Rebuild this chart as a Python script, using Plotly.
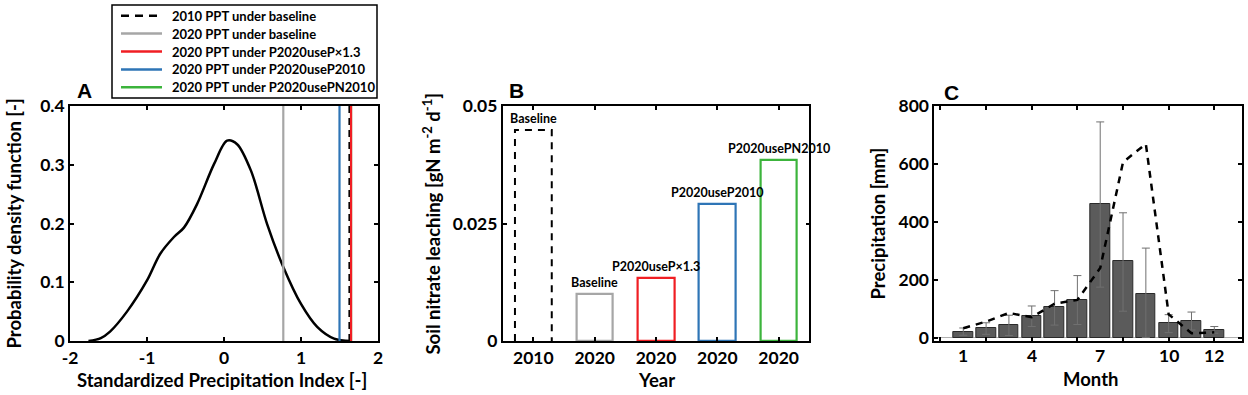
import plotly.graph_objects as go

# ---------------- data ----------------
# Panel A: PDF of standardized precipitation index
spi_x = [-1.76, -1.60, -1.48, -1.26, -1.00, -0.83, -0.65, -0.52, -0.35, -0.13, 0.04, 0.17, 0.35, 0.56, 0.77, 1.00, 1.21, 1.43, 1.65]
pdf_y = [0.0, 0.005, 0.016, 0.050, 0.103, 0.148, 0.177, 0.193, 0.233, 0.301, 0.341, 0.335, 0.290, 0.199, 0.126, 0.063, 0.024, 0.004, 0.0]
vline_names = ["2010 PPT under baseline", "2020 PPT under baseline", "2020 PPT under P2020useP×1.3",
               "2020 PPT under P2020useP2010", "2020 PPT under P2020usePN2010"]
vline_spi = [1.63, 0.77, 1.65, 1.50, 1.65]

# Panel B: soil nitrate leaching
scenario_labels = ["Baseline", "Baseline", "P2020useP×1.3", "P2020useP2010", "P2020usePN2010"]
year_labels = ["2010", "2020", "2020", "2020", "2020"]
leaching = [0.0449, 0.0100, 0.0133, 0.0291, 0.0385]

# Panel C: monthly precipitation
months = [1, 2, 3, 4, 5, 6, 7, 8, 9, 10, 11, 12]
precip_mean = [20, 34, 42, 76, 104, 131, 460, 263, 152, 51, 58, 26]
precip_hi = [33, 51, 77, 109, 162, 214, 745, 431, 309, 79, 88, 38]
precip_lo = [8, 11, 7, 38, 43, 45, 174, 91, 0, 17, 26, 15]
precip_2010 = [32, 55, 85, 70, 117, 130, 240, 606, 669, 80, 15, 18]
month_labels = [1, 4, 7, 10, 12]

# ---------------- styles ----------------
FONT = "Lato"
BLACK = "#000000"
GRAY = "#A6A6A6"
RED = "#F01E23"
BLUE = "#2E75B6"
GREEN = "#3CB43C"
line_colors = [BLACK, GRAY, RED, BLUE, GREEN]
line_dash = ["7px,5px", "solid", "solid", "solid", "solid"]

W, H = 1248, 395
def px(xp):
    return xp / W
def py(yp):
    return 1 - yp / H

ydom = [py(341), py(106)]

fig = go.Figure()

# Panel A curve
fig.add_trace(go.Scatter(x=spi_x, y=pdf_y, mode="lines", line=dict(color=BLACK, width=2.5, shape="spline", smoothing=0.9),
                         showlegend=False, xaxis="x", yaxis="y"))
# vertical lines (draw order: gray, blue, green, dashed black, red)
order = [1, 3, 4, 0, 2]
for i in order:
    fig.add_trace(go.Scatter(x=[vline_spi[i], vline_spi[i]], y=[0, 0.4], mode="lines",
                             line=dict(color=line_colors[i], width=2.2, dash=line_dash[i]),
                             name=vline_names[i], showlegend=False, xaxis="x", yaxis="y"))

# Panel B bars
bar_w = 0.6
cats = [1, 2, 3, 4, 5]
c0 = cats[0]
fig.add_trace(go.Scatter(x=[c0 - bar_w / 2, c0 - bar_w / 2, c0 + bar_w / 2, c0 + bar_w / 2],
                         y=[0, leaching[0], leaching[0], 0], mode="lines",
                         line=dict(color=BLACK, width=2, dash="7px,6px"), showlegend=False,
                         xaxis="x2", yaxis="y2"))
fig.add_trace(go.Bar(x=cats[1:], y=leaching[1:], width=bar_w,
                     marker=dict(color="rgba(0,0,0,0)", line=dict(color=line_colors[1:], width=2.2)),
                     showlegend=False, xaxis="x2", yaxis="y2"))

# Panel C bars with error bars
err_plus = [h - m for h, m in zip(precip_hi, precip_mean)]
err_minus = [m - l for m, l in zip(precip_mean, precip_lo)]
fig.add_trace(go.Bar(x=months, y=precip_mean, width=0.86,
                     marker=dict(color="#5B5B5B", line=dict(color="#2A2A2A", width=1)),
                     error_y=dict(type="data", array=err_plus, arrayminus=err_minus, color="#707070",
                                  thickness=1, width=4),
                     showlegend=False, xaxis="x3", yaxis="y3"))
fig.add_trace(go.Scatter(x=months, y=precip_2010, mode="lines",
                         line=dict(color=BLACK, width=2.5, dash="7px,6px"), showlegend=False,
                         xaxis="x3", yaxis="y3"))

axis_common = dict(showline=True, linecolor=BLACK, linewidth=1.6, mirror="allticks", ticks="inside",
                   ticklen=4, tickwidth=1.5, tickcolor=BLACK, showgrid=False, zeroline=False,
                   automargin=False,
                   tickfont=dict(family=FONT, size=17.5, color=BLACK, weight="bold"))

fig.update_layout(
    width=W, height=H, margin=dict(l=0, r=0, t=0, b=0, autoexpand=False),
    paper_bgcolor="white", plot_bgcolor="white",
    font=dict(family=FONT, color=BLACK, weight="bold"),
    bargap=0, barmode="overlay", showlegend=False,
    xaxis=dict(domain=[px(70), px(378)], range=[-2, 2], tickvals=[-2, -1, 0, 1, 2],
               ticktext=["-2", "-1", "0", "1", "2"], anchor="y", **axis_common),
    yaxis=dict(domain=ydom, range=[0, 0.4], tickvals=[0, 0.1, 0.2, 0.3, 0.4],
               ticktext=["0", "0.1", "0.2", "0.3", "0.4"], anchor="x", **axis_common),
    xaxis2=dict(domain=[px(502.7), px(809.3)], range=[0.5, 5.5], tickvals=cats, ticktext=year_labels,
                anchor="y2", **axis_common),
    yaxis2=dict(domain=ydom, range=[0, 0.05], tickvals=[0, 0.025, 0.05], ticktext=["0", "0.025", "0.05"],
                anchor="x2", **axis_common),
    xaxis3=dict(domain=[px(934.3), px(1241.7)], range=[-0.27, 13.2], tickvals=[0, 2, 4, 6, 8, 10, 12],
                showticklabels=False, anchor="y3", **axis_common),
    yaxis3=dict(domain=ydom, range=[-12, 800], tickvals=[0, 200, 400, 600, 800], anchor="x3",
                **{**axis_common, "zeroline": True, "zerolinecolor": "#B0B0B0", "zerolinewidth": 1}),
)

# ---- legend box (drawn as layout decorations) ----
shapes = [dict(type="rect", xref="paper", yref="paper", x0=px(112), x1=px(377), y0=py(98), y1=py(5),
               line=dict(color=BLACK, width=1.5), fillcolor="white", layer="above")]
ann = []
row0, row_step = 15.7, 17.9
for k, (name, col, dsh) in enumerate(zip(vline_names, line_colors, line_dash)):
    yr = row0 + k * row_step
    shapes.append(dict(type="line", xref="paper", yref="paper", x0=px(121), x1=px(162), y0=py(yr), y1=py(yr),
                       line=dict(color=col, width=2.5, dash=("8px,6px" if dsh != "solid" else "solid")),
                       layer="above"))
    ann.append(dict(text=name, x=px(170), y=py(yr), xref="paper", yref="paper", xanchor="left",
                    yanchor="middle", showarrow=False, font=dict(family=FONT, size=13, weight="bold")))

for letter, xl, yl in [("A", 75, 90), ("B", 507, 90), ("C", 941.7, 92)]:
    ann.append(dict(text=letter, x=px(xl), y=py(yl), xref="paper", yref="paper", xanchor="left",
                    yanchor="middle", showarrow=False, font=dict(family="Liberation Sans", size=21, weight="bold")))
titles = [
    ("Standardized Precipitation Index [-]", 222, 380, 0),
    ("Probability density function [-]", 13, 223.5, -90),
    ("Year", 656, 380, 0),
    ("Soil nitrate leaching [gN m<sup>-2</sup> d<sup>-1</sup>]", 432, 223.5, -90),
    ("Month", 1090, 379, 0),
    ("Precipitation [mm]", 877, 223.5, -90),
]
for t, xt, yt, ang in titles:
    ann.append(dict(text=t, x=px(xt), y=py(yt), xref="paper", yref="paper", xanchor="center",
                    yanchor="middle", textangle=ang, showarrow=False,
                    font=dict(family=FONT, size=18.5, weight="bold")))
for c, v, lab in zip(cats, leaching, scenario_labels):
    ann.append(dict(text=lab, x=c, y=v, xref="x2", yref="y2", xanchor="center", yanchor="bottom",
                    yshift=2, showarrow=False, font=dict(family=FONT, size=12.5, weight="bold")))
for m in month_labels:
    ann.append(dict(text=str(m), x=m, y=py(355), xref="x3", yref="paper", xanchor="center",
                    yanchor="middle", showarrow=False, font=dict(family=FONT, size=17.5, weight="bold")))
fig.update_layout(annotations=ann, shapes=shapes)

fig.write_html("out.html", config={"displayModeBar": False},
               post_script="document.body.style.margin='0px';")
